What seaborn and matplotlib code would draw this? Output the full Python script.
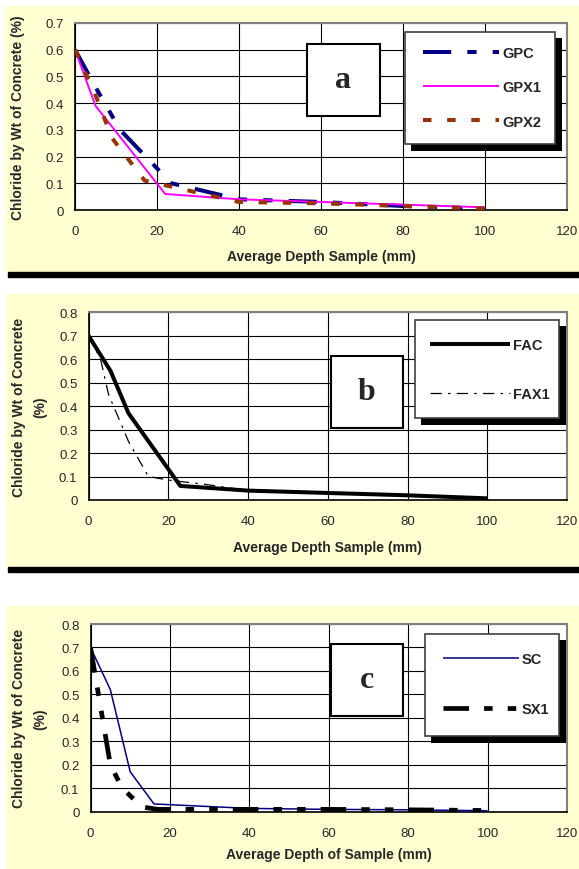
import pandas as pd
import matplotlib
matplotlib.use("Agg")
import matplotlib.pyplot as plt
from matplotlib.patches import Rectangle
from matplotlib.ticker import FuncFormatter, MultipleLocator
import seaborn as sns

W, H = 579, 870

# panel a - geopolymer
gpc_x = [0, 5, 11, 23.5, 40, 60, 80, 100]
gpc_y = [0.60, 0.46, 0.30, 0.10, 0.04, 0.03, 0.015, 0.005]
gpx1_x = [0, 5, 22, 40, 60, 80, 100]
gpx1_y = [0.60, 0.39, 0.06, 0.04, 0.03, 0.02, 0.01]
gpx2_x = [0, 5, 9, 17, 40, 60, 80, 100]
gpx2_y = [0.60, 0.43, 0.27, 0.11, 0.03, 0.025, 0.015, 0.005]
# panel b - fly ash
fac_x = [0, 5.5, 10, 23, 40, 60, 80, 100]
fac_y = [0.70, 0.55, 0.37, 0.06, 0.04, 0.03, 0.02, 0.007]
fax1_x = [0, 3, 5, 10, 15, 20, 30, 40, 60, 80, 100]
fax1_y = [0.70, 0.60, 0.45, 0.25, 0.10, 0.085, 0.065, 0.04, 0.03, 0.02, 0.005]
# panel c - slag
sc_x = [0, 5, 10, 16, 40, 60, 80, 100]
sc_y = [0.70, 0.52, 0.17, 0.033, 0.014, 0.01, 0.008, 0.004]
sx1_x = [0, 5, 8, 13, 17, 40, 60, 80, 100]
sx1_y = [0.70, 0.20, 0.10, 0.02, 0.01, 0.01, 0.01, 0.008, 0.005]

# colour, linewidth (pt), dash pattern
STY = {
    "GPC": ("#000080", 2.9, (7, 4, 2.3, 4, 2.3, 4)),
    "GPX1": ("#FF00FF", 1.4, ""),
    "GPX2": ("#993300", 2.9, (2.1, 3.9)),
    "FAC": ("#000000", 2.9, ""),
    "FAX1": ("#000000", 0.9, (9, 5, 2, 5)),
    "SC": ("#000080", 1.1, ""),
    "SX1": ("#000000", 3.4, (5.4, 3.2, 1.8, 3.2, 1.8, 3.2)),
}

sns.set_style("white")
plt.rcParams["font.family"] = ["Liberation Sans", "DejaVu Sans"]

fig = plt.figure(figsize=(W / 100, H / 100), dpi=100)


def fr(x, y):
    return x / W, 1 - y / H


def frect(x0, y0, x1, y1, **kw):
    return Rectangle(fr(x0, y1), (x1 - x0) / W, (y1 - y0) / H, transform=fig.transFigure, **kw)


def panel(box, series, ymax, xlabel, ylabel, ylab_x, xlab_y, letter, lbox, legbox, leg_xy, hlen, lspace):
    l, t, r, b = box
    ax = fig.add_axes([l / W, 1 - b / H, (r - l) / W, (b - t) / H])
    frames = [pd.DataFrame({"depth": xs, "chloride": ys, "series": name}) for name, xs, ys in series]
    df = pd.concat(frames, ignore_index=True)
    names = [s[0] for s in series]
    sns.lineplot(data=df, x="depth", y="chloride", hue="series", style="series", size="series",
                 hue_order=names, style_order=names, size_order=names,
                 palette={n: STY[n][0] for n in names}, sizes={n: STY[n][1] for n in names},
                 dashes={n: STY[n][2] for n in names}, estimator=None, sort=False,
                 legend=False, ax=ax, zorder=3)
    for ln in ax.get_lines():
        ln.set_dash_capstyle("butt")
        ln.set_solid_capstyle("butt")
    ax.set_xlim(0, 120)
    ax.set_ylim(0, ymax)
    ax.xaxis.set_major_locator(MultipleLocator(20))
    ax.yaxis.set_major_locator(MultipleLocator(0.1))
    ax.yaxis.set_major_formatter(FuncFormatter(lambda v, p: f"{v:g}"))
    ax.grid(True, color="black", lw=0.8)
    ax.set_axisbelow(True)
    ax.tick_params(axis="both", labelsize=9.5, length=3, width=1, color="black", direction="out")
    ax.tick_params(axis="x", pad=8)
    ax.tick_params(axis="y", pad=5)
    for s in ["top", "right"]:
        ax.spines[s].set_color("#808080")
        ax.spines[s].set_linewidth(1.5)
    for s in ["left", "bottom"]:
        ax.spines[s].set_color("black")
        ax.spines[s].set_linewidth(1.2)
    ax.set_xlabel(xlabel, fontsize=10, fontweight="bold")
    ax.set_ylabel(ylabel, fontsize=10, fontweight="bold", linespacing=1.6)
    ax.xaxis.label.set_va("center")
    ax.yaxis.label.set_va("center")
    ax.xaxis.set_label_coords(0.5, (b - xlab_y) / (b - t))
    ax.yaxis.set_label_coords((ylab_x - l) / (r - l), 0.5)

    # letter box
    ax.add_artist(frect(*lbox, facecolor="white", edgecolor="black", lw=1.5, zorder=4, clip_on=False))
    cx, cy = fr((lbox[0] + lbox[2]) / 2, (lbox[1] + lbox[3]) / 2)
    ax.text(cx, cy, letter, transform=fig.transFigure, ha="center", va="center",
            fontsize=23, fontweight="bold", family="Liberation Serif", zorder=6)

    # legend box with solid shadow
    x0, y0, x1, y1 = legbox
    ax.add_artist(frect(x0 + 6, y0 + 6, x1 + 7, y1 + 7, facecolor="black", edgecolor="none",
                        zorder=4, clip_on=False))
    ax.add_artist(frect(x0, y0, x1, y1, facecolor="white", edgecolor="#404040", lw=1.2,
                        zorder=4.5, clip_on=False))
    ax.legend(ax.get_lines()[:len(names)], names, loc="upper left", bbox_to_anchor=fr(*leg_xy),
              bbox_transform=fig.transFigure, frameon=False, borderpad=0, borderaxespad=0,
              handlelength=hlen, handletextpad=0.2, labelspacing=lspace,
              prop={"weight": "bold", "size": 10.5})
    return ax


panel((75, 24, 567, 211),
      [("GPC", gpc_x, gpc_y), ("GPX1", gpx1_x, gpx1_y), ("GPX2", gpx2_x, gpx2_y)],
      0.7, "Average Depth Sample (mm)", "Chloride by Wt of Concrete (%)", 17.7, 257,
      "a", (306.5, 45, 379.6, 117), (405, 33, 555, 145), (422.7, 47), 5.23, 1.39)

panel((88.6, 313.3, 567, 501),
      [("FAC", fac_x, fac_y), ("FAX1", fax1_x, fax1_y)],
      0.8, "Average Depth Sample (mm)", "Chloride by Wt of Concrete\n(%)", 29.5, 548,
      "b", (330.5, 357, 403, 429), (415, 321, 559, 419), (430.2, 338.8), 5.45, 2.41)

panel((90.5, 625, 567, 812.7),
      [("SC", sc_x, sc_y), ("SX1", sx1_x, sx1_y)],
      0.8, "Average Depth of Sample (mm)", "Chloride by Wt of Concrete\n(%)", 29.5, 855,
      "c", (330.5, 645, 403, 717), (425, 635, 559, 737), (443.1, 652.8), 5.2, 2.47)

# yellow chart areas and black rules
fig.add_artist(frect(5, 7, 579, 273, color="#FFFFD2", zorder=-5))
fig.add_artist(frect(5.5, 295, 579, 567, color="#FFFFD2", zorder=-5))
fig.add_artist(frect(5.5, 607, 579, 870, color="#FFFFD2", zorder=-5))
fig.add_artist(frect(8, 273, 579, 277.5, color="black", zorder=-4))
fig.add_artist(frect(8, 568, 579, 573, color="black", zorder=-4))

fig.savefig("out.png", dpi=100)
